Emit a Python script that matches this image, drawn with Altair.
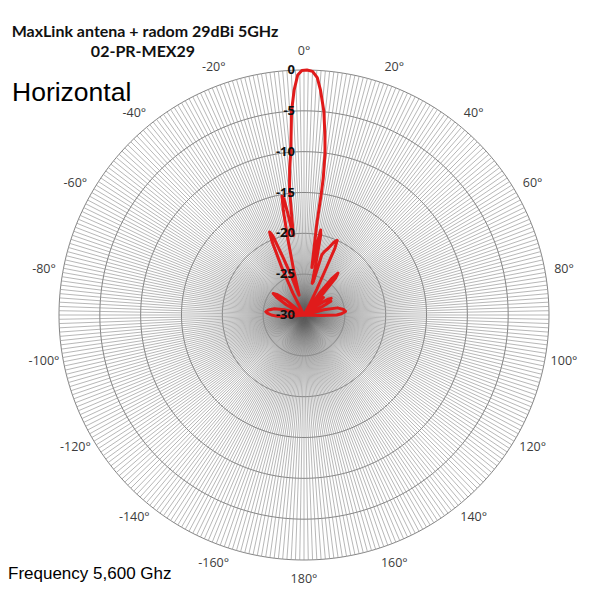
import altair as alt
import pandas as pd
import numpy as np

TITLE1 = "MaxLink antena + radom 29dBi 5GHz"
TITLE2 = "02-PR-MEX29"
POLARIZATION = "Horizontal"
FREQUENCY = "Frequency 5,600 Ghz"

# radiation pattern: angle (deg), level (dB); -30 dB is the floor
pattern_angle = [-180, -100, -96, -93, -90, -87, -85, -82, -78, -75, -72,
                 -64, -60, -57, -55, -53, -50, -47,
                 -30, -27, -25, -23.5, -22.5, -21.5, -20, -18, -16, -14,
                 -13, -12, -11.2, -10.5, -9.8, -9, -8.2, -7.6, -7.2, -6.6, -5.6, -4.7, -4,
                 -3.5, -2.5, -1.5, -0.5, 0.7, 2.0, 3.2, 4.2, 5.6, 6.7, 7.4, 8.0, 8.1, 8.0, 9.4,
                 10.5, 11.1, 11.8, 13, 14.5, 15.5, 16.5, 18, 20, 22.5, 24, 24.8, 25.3, 26.5, 28, 30,
                 33, 35.5, 37.5, 39, 40.5, 42, 44,
                 46, 48, 50, 52,
                 54, 56.5, 58.5, 60.5, 63, 65, 67,
                 72, 75, 78, 82, 85, 88, 90, 91.5, 93, 180]
pattern_db = [-30, -30, -28.5, -26.8, -26.0, -25.5, -25.3, -25.6, -26.3, -27.5, -30,
              -30, -27.5, -26.0, -25.4, -25.8, -27.2, -30,
              -30, -27, -23.5, -20.2, -19.0, -19.6, -22.5, -25.0, -26.8, -27.5,
              -24.5, -20.5, -17, -15.2, -15.6, -17.5, -19.5, -20.2, -18.5, -14.6, -12, -10.1, -7.5,
              -5.0, -2.4, -0.6, -0.05, 0, -0.15, -0.9, -2.4, -5.0, -8.0, -10.0, -13.0, -15.0, -18.9, -24.1,
              -21.0, -19.4, -20.0, -23.5, -26.0, -25.8, -22.3, -21.8, -21.3, -20.3, -20.0, -21.0, -23.5, -26.5, -28.5, -30,
              -30, -26.5, -24.3, -23.4, -24.0, -27, -30,
              -28.5, -26.8, -28, -30,
              -28, -26.5, -26.1, -26.8, -26.3, -27.5, -30,
              -30, -27.5, -25.8, -25.1, -24.9, -25.4, -26.0, -28, -30, -30]

ring_db = [-25, -20, -15, -10, -5, 0]
db_tick_values = [0, -5, -10, -15, -20, -25, -30]
angle_tick_values = list(range(-160, 181, 20))

# layout (pixels in chart space)
W = H = 584
CX, CY = 296, 307
R = 245
DB_MIN, DB_MAX = -30, 0
LABEL_R = 264

xs = alt.Scale(domain=[0, W], nice=False, zero=False)
ys = alt.Scale(domain=[H, 0], nice=False, zero=False)
X = lambda f: alt.X(f, type="quantitative", scale=xs, axis=None)
Y = lambda f: alt.Y(f, type="quantitative", scale=ys, axis=None)

rad = f"(max(datum.db, {DB_MIN}) - ({DB_MIN})) / ({DB_MAX} - ({DB_MIN})) * {R}"

# spokes every degree
spokes_df = pd.DataFrame({"angle": np.arange(0, 360, 1)})
spokes = alt.Chart(spokes_df).transform_calculate(
    x0=f"{CX}", y0=f"{CY}",
    x1=f"{CX} + {R} * sin(datum.angle * PI / 180)",
    y1=f"{CY} - {R} * cos(datum.angle * PI / 180)",
).mark_rule(stroke="#606060", strokeOpacity=0.45, strokeWidth=1).encode(
    x=X("x0"), y=Y("y0"), x2="x1:Q", y2="y1:Q"
)

# rings
ring_rows = [{"ring": d, "angle": a, "db": d} for d in ring_db for a in range(0, 361)]
rings = alt.Chart(pd.DataFrame(ring_rows)).transform_calculate(
    r=rad,
).transform_calculate(
    px=f"{CX} + datum.r * sin(datum.angle * PI / 180)",
    py=f"{CY} - datum.r * cos(datum.angle * PI / 180)",
).mark_line(stroke="#858585", strokeWidth=1).encode(
    x=X("px"), y=Y("py"), detail="ring:N", order="angle:Q"
)

# pattern
pat_df = pd.DataFrame({"angle": pattern_angle, "db": pattern_db, "i": range(len(pattern_db))})
pattern = alt.Chart(pat_df).transform_calculate(
    r=rad,
).transform_calculate(
    px=f"{CX} + datum.r * sin(datum.angle * PI / 180)",
    py=f"{CY} - datum.r * cos(datum.angle * PI / 180)",
).mark_line(stroke="#e01b1b", strokeWidth=3, strokeJoin="round", strokeCap="round").encode(
    x=X("px"), y=Y("py"), order="i:Q"
)

# angle labels
ang_df = pd.DataFrame({"angle": angle_tick_values})
ang_labels = alt.Chart(ang_df).transform_calculate(
    px=f"{CX} + {LABEL_R} * sin(datum.angle * PI / 180)",
    py=f"{CY} - {LABEL_R} * cos(datum.angle * PI / 180)",
    lab="datum.angle + '°'",
).mark_text(font="Open Sans", fontSize=12.5, color="#3c3c3c", baseline="middle", align="center").encode(
    x=X("px"), y=Y("py"), text="lab:N"
)

# dB labels
db_df = pd.DataFrame({"db": db_tick_values})
db_labels = alt.Chart(db_df).transform_calculate(
    r=rad,
).transform_calculate(
    px=f"{CX} - 9",
    py=f"{CY} - datum.r",
    lab="'' + datum.db",
).mark_text(font="Open Sans", fontSize=13, fontWeight="bold", color="#111111",
            baseline="middle", align="right").encode(
    x=X("px"), y=Y("py"), text="lab:N"
)

# titles
t1 = alt.Chart(pd.DataFrame({"t": [TITLE1]})).mark_text(
    font="Lato", fontSize=16, fontWeight="bold", color="#111111", align="center", baseline="middle"
).encode(x=alt.value(137), y=alt.value(24), text="t:N")
t2 = alt.Chart(pd.DataFrame({"t": [TITLE2]})).mark_text(
    font="Lato", fontSize=16, fontWeight="bold", color="#111111", align="center", baseline="middle"
).encode(x=alt.value(135), y=alt.value(44), text="t:N")
t3 = alt.Chart(pd.DataFrame({"t": [POLARIZATION]})).mark_text(
    font="Liberation Sans", fontSize=26.5, color="#000000", align="left", baseline="alphabetic"
).encode(x=alt.value(4), y=alt.value(93), text="t:N")
t4 = alt.Chart(pd.DataFrame({"t": [FREQUENCY]})).mark_text(
    font="Liberation Sans", fontSize=17, color="#000000", align="left", baseline="alphabetic"
).encode(x=alt.value(0), y=alt.value(571), text="t:N")

chart = alt.layer(spokes, rings, pattern, db_labels, ang_labels, t1, t2, t3, t4).properties(
    width=W, height=H, padding=0, autosize=alt.AutoSizeParams(type="none")
).configure_view(stroke=None)

chart.save("out.html", embed_options={"renderer": "svg", "actions": False})
